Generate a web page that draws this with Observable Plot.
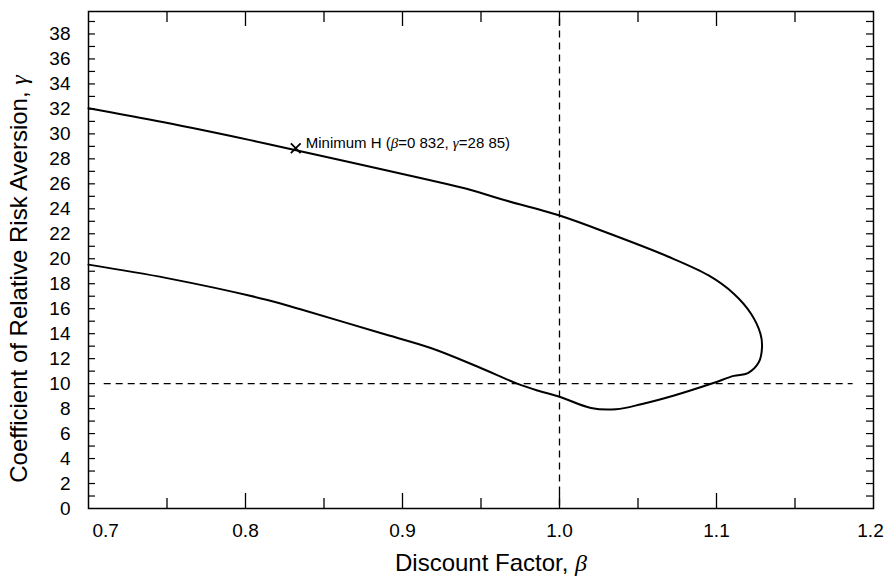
<!DOCTYPE html>
<html><head><meta charset="utf-8">
<script src="https://cdn.jsdelivr.net/npm/d3@7"></script>
<script src="https://cdn.jsdelivr.net/npm/@observablehq/plot@0.6"></script>
<style>body{margin:0;background:#fff}</style>
</head><body><div id="chart"></div>
<script>
// Boundary curve (beta, gamma), traced from upper-left around the nose and back along the lower branch
const beta  = [0.700, 0.748, 0.803, 0.830, 0.888, 0.943, 0.962, 1.000, 1.032, 1.069, 1.095, 1.111, 1.122, 1.128, 1.129, 1.127, 1.120, 1.111, 1.098, 1.073, 1.052, 1.036, 1.020, 1.000, 0.986, 0.973, 0.948, 0.918, 0.886, 0.835, 0.814, 0.750, 0.700];
const gamma = [32.05, 30.93, 29.50, 28.75, 27.12, 25.52, 24.80, 23.46, 22.00, 20.18, 18.66, 17.20, 15.60, 14.00, 12.93, 11.73, 10.85, 10.62, 10.05, 9.05, 8.35, 7.95, 8.05, 8.95, 9.45, 10.00, 11.35, 12.85, 14.05, 15.95, 16.70, 18.45, 19.53];

// Minimum H point
const minBeta = [0.832];
const minGamma = [28.85];
const minLabel = "Minimum H (β=0 832, γ=28 85)";

// Reference lines
const refBeta = [1.0];
const refGamma = [10];

// Ticks and labels
const xMajor = [0.8, 0.9, 1.0, 1.1];
const xMinor = [0.75, 0.85, 0.95, 1.05, 1.15];
const xLabelsMid = [0.8, 0.9, 1.0, 1.1];
const xLabelFirst = [0.7];
const xLabelLast = [1.2];
const yTicks = [1,2,3,4,5,6,7,8,9,10,11,12,13,14,15,16,17,18,19,20,21,22,23,24,25,26,27,28,29,30,31,32,33,34,35,36,37,38,39];
const yLabels = [0,2,4,6,8,10,12,14,16,18,20,22,24,26,28,30,32,34,36,38];

const xTitle = "Discount Factor, β";
const yTitle = "Coefficient of Relative Risk Aversion, γ";

const W = 885, H = 578, mL = 88, mR = 12, mT = 11, mB = 70;
const fw = W - mL - mR, fh = H - mT - mB;

const curve = beta.map((b, i) => ({b, g: gamma[i]}));
const minPts = minBeta.map((b, i) => ({b, g: minGamma[i], label: minLabel}));
const fmt = d3.format(".1f");

const plot = Plot.plot({
  width: W, height: H,
  marginLeft: mL, marginRight: mR, marginTop: mT, marginBottom: mB,
  style: {fontFamily: "'Liberation Sans', Arial, Helvetica, sans-serif", background: "#fff", color: "#000"},
  x: {domain: [0.7, 1.2]},
  y: {domain: [0, 39.8]},
  marks: [
    Plot.ruleY(refGamma, {y: d => d, x1: 0.71, x2: 1.187, stroke: "#000", strokeWidth: 1.3, strokeDasharray: "7,5"}),
    Plot.ruleX(refBeta, {x: d => d, y1: 0.2, y2: 39.5, stroke: "#000", strokeWidth: 1.3, strokeDasharray: "7,5"}),
    Plot.line(curve, {x: "b", y: "g", curve: "catmull-rom", stroke: "#000", strokeWidth: 2}),
    Plot.dot(minPts, {x: "b", y: "g", symbol: "times", r: 4.5, stroke: "#000", strokeWidth: 1.8}),
    Plot.text(minPts, {x: "b", y: "g", text: "label", textAnchor: "start", dx: 10, dy: -5, fontSize: 15, fill: "#000"}),
    Plot.tickY(yTicks, {y: d => d, insetRight: fw - 7, stroke: "#000", strokeWidth: 1.2}),
    Plot.tickY(yTicks, {y: d => d, insetLeft: fw - 7, stroke: "#000", strokeWidth: 1.2}),
    Plot.tickX(xMajor, {x: d => d, insetTop: fh - 15, stroke: "#000", strokeWidth: 1.3}),
    Plot.tickX(xMinor, {x: d => d, insetTop: fh - 10, stroke: "#000", strokeWidth: 1.3}),
    Plot.tickX(xMajor, {x: d => d, insetBottom: fh - 15, stroke: "#000", strokeWidth: 1.3}),
    Plot.tickX(xMinor, {x: d => d, insetBottom: fh - 11, stroke: "#000", strokeWidth: 1.3}),
    Plot.axisY({ticks: yLabels, tickSize: 0, tickPadding: 18, fontSize: 19, label: null}),
    Plot.axisX({ticks: xLabelsMid, tickSize: 0, tickPadding: 15, fontSize: 19, label: null, tickFormat: fmt}),
    Plot.axisX({ticks: xLabelFirst, tickSize: 0, tickPadding: 15, fontSize: 19, label: null, tickFormat: fmt, textAnchor: "start", dx: 4}),
    Plot.axisX({ticks: xLabelLast, tickSize: 0, tickPadding: 15, fontSize: 19, label: null, tickFormat: fmt, dx: -3}),
    Plot.frame({stroke: "#000", strokeWidth: 1.5}),
    Plot.text([xTitle], {text: d => d, frameAnchor: "bottom", textAnchor: "middle", lineAnchor: "middle", dy: 55, dx: 10, fontSize: 24, fill: "#000"}),
    Plot.text([yTitle], {text: d => d, frameAnchor: "left", textAnchor: "middle", lineAnchor: "middle", rotate: -90, dx: -69.5, dy: 19, fontSize: 24, fill: "#000"})
  ]
});

// italicize Greek letters
const svgNS = "http://www.w3.org/2000/svg";
plot.querySelectorAll("text").forEach(t => {
  if (t.children.length) return;
  const s = t.textContent;
  if (!/[βγ]/.test(s)) return;
  t.textContent = "";
  s.split(/([βγ])/).forEach(part => {
    if (!part) return;
    const ts = document.createElementNS(svgNS, "tspan");
    ts.textContent = part;
    if (/[βγ]/.test(part)) {
      ts.setAttribute("font-style", "italic");
      ts.setAttribute("font-family", "'Liberation Serif', 'DejaVu Serif', serif");
    }
    t.appendChild(ts);
  });
});

document.getElementById("chart").appendChild(plot);
</script>
</body></html>
